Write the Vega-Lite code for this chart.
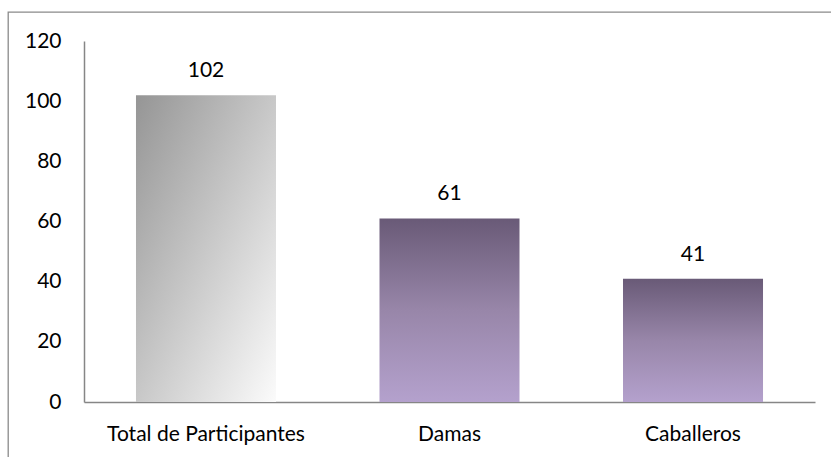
{
  "$schema": "https://vega.github.io/schema/vega-lite/v6.json",
  "width": 831,
  "height": 460,
  "autosize": {"type": "none"},
  "padding": {"left": 8, "top": 12, "right": 0, "bottom": 0},
  "background": "white",
  "config": {
    "view": {"stroke": "#8a8a8a", "strokeWidth": 1.3},
    "font": "Lato"
  },
  "data": {
    "values": [
      {"cat": "Total de Participantes", "n": 102},
      {"cat": "Damas", "n": 61},
      {"cat": "Caballeros", "n": 41}
    ]
  },
  "encoding": {
    "x": {
      "field": "cat",
      "type": "nominal",
      "sort": null,
      "title": null,
      "scale": {"range": [76, 807], "paddingInner": 0.425, "paddingOuter": 0.2135},
      "axis": {
        "orient": "bottom",
        "offset": -70,
        "labelAngle": 0,
        "labelFont": "Lato",
        "labelFontSize": 21,
        "labelColor": "#000000",
        "labelPadding": 21,
        "labelLimit": 0,
        "ticks": false,
        "domainColor": "#868686",
        "domainWidth": 1.5,
        "grid": false
      }
    },
    "y": {
      "field": "n",
      "type": "quantitative",
      "title": null,
      "scale": {"domain": [0, 120], "range": [390, 29], "nice": false, "zero": true},
      "axis": {
        "orient": "left",
        "offset": -76,
        "values": [0, 20, 40, 60, 80, 100, 120],
        "labelFont": "Lato",
        "labelFontSize": 21,
        "labelColor": "#000000",
        "labelPadding": 23,
        "ticks": false,
        "domainColor": "#868686",
        "domainWidth": 1.5,
        "grid": false
      }
    }
  },
  "layer": [
    {
      "mark": {"type": "bar"},
      "encoding": {
        "fill": {
          "condition": {
            "test": "datum.cat === 'Total de Participantes'",
            "value": {
              "gradient": "linear",
              "x1": 0, "y1": 0, "x2": 1, "y2": 1,
              "stops": [
                {"offset": 0, "color": "#959595"},
                {"offset": 1, "color": "#fbfbfb"}
              ]
            }
          },
          "value": {
            "gradient": "linear",
            "x1": 0, "y1": 0, "x2": 0, "y2": 1,
            "stops": [
              {"offset": 0, "color": "#695a77"},
              {"offset": 0.5, "color": "#9886a9"},
              {"offset": 1, "color": "#b4a1cd"}
            ]
          }
        }
      }
    },
    {
      "mark": {"type": "text", "baseline": "middle", "dy": -24, "fontSize": 21, "font": "Lato", "color": "#000000"},
      "encoding": {"text": {"field": "n", "type": "quantitative"}}
    }
  ]
}
